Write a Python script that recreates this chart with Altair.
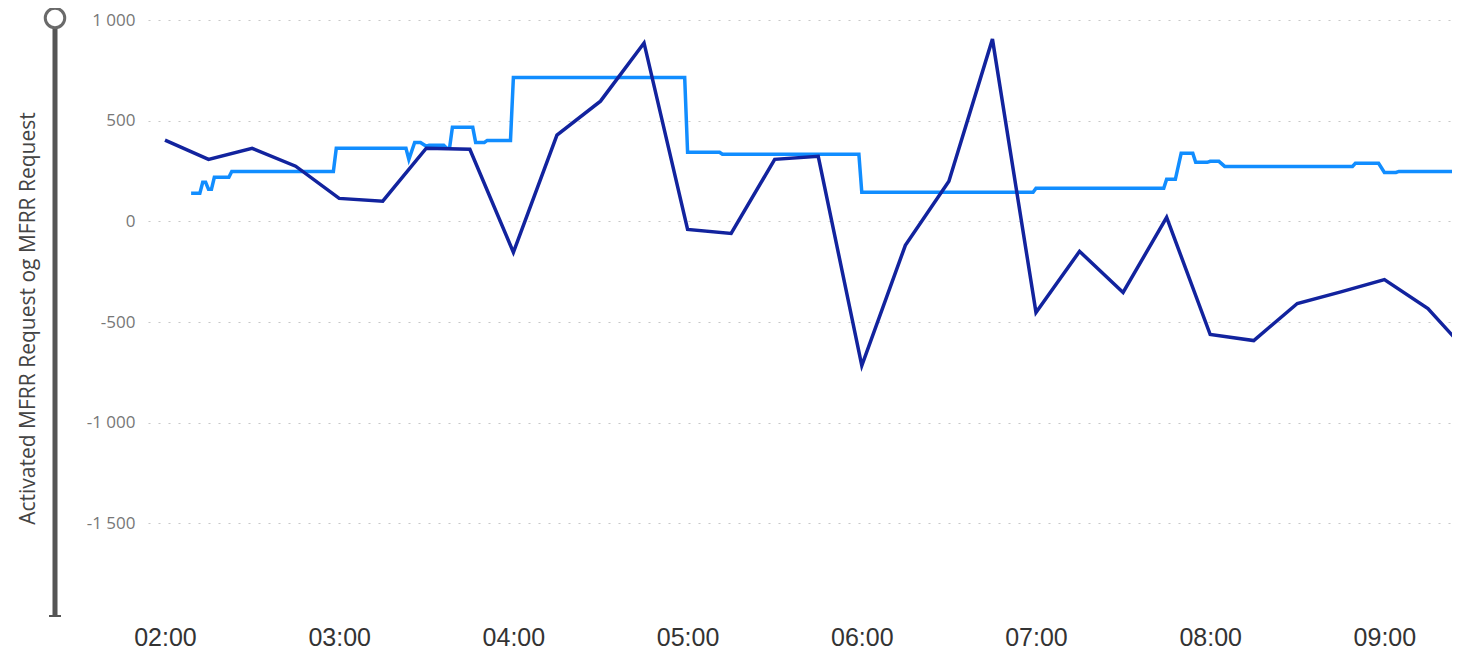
import altair as alt
import pandas as pd

DAY = "2024-01-01T"

dark_times = ["02:00", "02:15", "02:30", "02:45", "03:00", "03:15", "03:30", "03:45",
              "04:00", "04:15", "04:30", "04:45", "05:00", "05:15", "05:30", "05:45",
              "06:00", "06:15", "06:30", "06:45", "07:00", "07:15", "07:30", "07:45",
              "08:00", "08:15", "08:30", "08:45", "09:00", "09:15", "09:30"]
dark_vals = [403, 308, 363, 274, 114, 100, 363, 358,
             -154, 428, 597, 886, -40, -60, 308, 323,
             -716, -119, 199, 905, -453, -149, -353, 20,
             -562, -592, -408, -350, -289, -433, -671]

light_times = ["02:09", "02:12", "02:13", "02:14", "02:15", "02:16", "02:17", "02:22",
               "02:23", "02:58", "02:59", "03:23", "03:24", "03:26", "03:28", "03:30",
               "03:31", "03:36", "03:37", "03:38", "03:39", "03:46", "03:47", "03:50",
               "03:51", "03:59", "04:00", "04:59", "05:00", "05:11", "05:12", "05:59",
               "06:00", "06:59", "07:00", "07:44", "07:45", "07:48", "07:50", "07:54",
               "07:55", "07:59", "08:00", "08:03", "08:05", "08:49", "08:50", "08:58",
               "09:00", "09:04", "09:05", "09:30"]
light_vals = [139, 139, 194, 194, 159, 159, 219, 219,
              248, 248, 363, 363, 308, 392, 392, 373,
              378, 378, 363, 363, 467, 467, 392, 392,
              402, 402, 715, 715, 343, 343, 333, 333,
              144, 144, 164, 164, 209, 209, 338, 338,
              293, 293, 298, 298, 273, 273, 288, 288,
              243, 243, 248, 248]

hour_ticks = [2, 3, 4, 5, 6, 7, 8, 9]
y_ticks = [-1500, -1000, -500, 0, 500, 1000]
y_title = "Activated MFRR Request og MFRR Request"

DARK = "#12239E"
LIGHT = "#118DFF"

dark_df = pd.DataFrame({"t": [DAY + s for s in dark_times], "v": dark_vals})
light_df = pd.DataFrame({"t": [DAY + s for s in light_times], "v": light_vals})
one = pd.DataFrame({"a": [0]})


def dt(h, m=0, s=0):
    return alt.DateTime(year=2024, month=1, date=1, hours=h, minutes=m, seconds=s)


x_scale = alt.Scale(domain=[dt(1, 54, 9), dt(9, 23, 17)])
y_scale = alt.Scale(domain=[-1965, 1000], nice=False, zero=False)

x_axis = alt.Axis(
    values=[dt(h) for h in hour_ticks], format="%H:%M",
    labelFont="Liberation Sans Narrow, Liberation Sans, Arial, sans-serif",
    labelFontSize=25, labelColor="#333333",
    labelPadding=8, ticks=False, domain=False, grid=False, labelFlush=False,
)
y_axis = alt.Axis(
    values=y_ticks,
    labelExpr="replace(replace(format(datum.value, ','), ',', ' '), '\u2212', '-')",
    labelFont="Open Sans", labelFontSize=17, labelColor="#777777", labelPadding=13,
    ticks=False, domain=False,
    grid=True, gridDash=[2, 8], gridColor="#c8c8c8", gridWidth=1.2,
    title=y_title, titleFont="Open Sans", titleFontSize=21, titleFontWeight="normal",
    titleColor="#444444", titleX=-120, titleY=298, titleAngle=270,
    titleAlign="center", titleBaseline="middle",
)

light = alt.Chart(light_df).mark_line(color=LIGHT, strokeWidth=3.5, clip=True).encode(
    x=alt.X("t:T", scale=x_scale, axis=x_axis, title=None),
    y=alt.Y("v:Q", scale=y_scale, axis=y_axis),
)
dark = alt.Chart(dark_df).mark_line(color=DARK, strokeWidth=3.5, clip=True).encode(
    x=alt.X("t:T", scale=x_scale, axis=x_axis, title=None),
    y=alt.Y("v:Q", scale=y_scale, axis=y_axis),
)

slider_bar = alt.Chart(one).mark_rule(color="#555555", strokeWidth=5).encode(
    x=alt.value(-93), y=alt.value(6), y2=alt.value(597)
)
slider_base = alt.Chart(one).mark_rule(color="#555555", strokeWidth=2).encode(
    x=alt.value(-99), x2=alt.value(-87), y=alt.value(596)
)
slider_knob = alt.Chart(one).mark_point(
    shape="circle", filled=True, fill="white", stroke="#6a6a6a", strokeWidth=3,
    size=380, opacity=1
).encode(x=alt.value(-93), y=alt.value(-2))

chart = alt.layer(light, dark, slider_bar, slider_base, slider_knob).properties(
    width=1304, height=597,
    background="white",
    autosize=alt.AutoSizeParams(type="none"),
    padding={"left": 140, "top": 12, "right": 0, "bottom": 33},
).configure_view(strokeWidth=0, stroke="transparent")

chart.save("out.html", embed_options={"renderer": "svg", "actions": False})
